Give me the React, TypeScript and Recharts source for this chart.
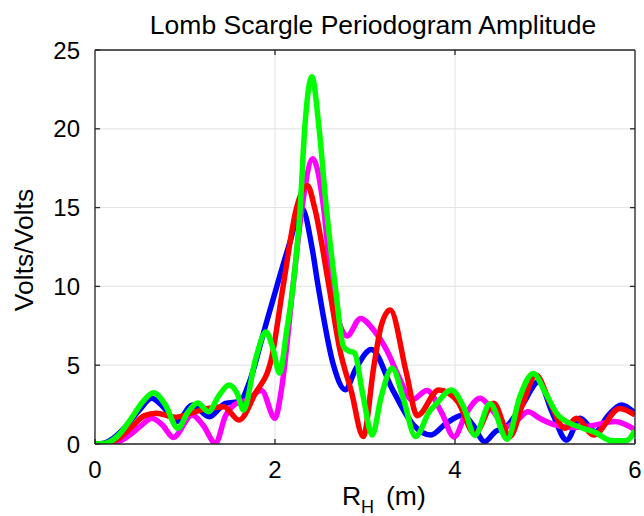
import React from 'react';
import { LineChart, Line, XAxis, YAxis, CartesianGrid, ReferenceLine } from 'recharts';

const xTicks = [0, 2, 4, 6];
const yTicks = [0, 5, 10, 15, 20, 25];

const blueX = [0, 0.1, 0.2, 0.34, 0.5, 0.63, 0.75, 0.91, 1.08, 1.27, 1.45, 1.61, 1.72, 1.87, 2.02, 2.15, 2.3, 2.41, 2.48, 2.65, 2.78, 2.9, 3.07, 3.31, 3.54, 3.73, 3.9, 4.09, 4.2, 4.33, 4.45, 4.57, 4.75, 4.93, 5.08, 5.24, 5.39, 5.56, 5.7, 5.85, 6];
const blueY = [0, 0.05, 0.35, 1.1, 2.2, 2.9, 2.4, 1.42, 2.47, 1.73, 2.58, 2.7, 4.0, 7.0, 10, 12.5, 14.95, 12.5, 10, 5, 3.45, 4.8, 6.0, 3.4, 1.2, 0.57, 1.3, 1.84, 1.2, 0.15, 0.8, 1.1, 2.5, 3.95, 2.0, 0.25, 1.63, 0.78, 1.8, 2.47, 1.95];

const redX = [0, 0.15, 0.25, 0.41, 0.55, 0.68, 0.89, 1.08, 1.26, 1.43, 1.6, 1.78, 1.96, 2.09, 2.24, 2.36, 2.44, 2.6, 2.72, 2.85, 2.98, 3.1, 3.18, 3.28, 3.46, 3.58, 3.82, 4.03, 4.22, 4.43, 4.61, 4.75, 4.9, 5.05, 5.22, 5.35, 5.54, 5.83, 6];
const redY = [0, 0.05, 0.3, 1.1, 1.8, 1.95, 1.7, 2.0, 2.26, 2.37, 1.52, 3.2, 5.4, 10, 15, 16.4, 15, 10, 6, 3.3, 0.47, 5.0, 7.5, 8.5, 4.5, 1.8, 3.43, 2.7, 0.65, 2.58, 0.47, 2.5, 4.38, 2.7, 1.0, 1.63, 0.57, 2.26, 1.84];

const magentaX = [0, 0.2, 0.3, 0.41, 0.52, 0.63, 0.75, 0.87, 1.08, 1.2, 1.34, 1.45, 1.55, 1.69, 1.85, 2.0, 2.07, 2.2, 2.3, 2.42, 2.54, 2.63, 2.7, 2.8, 2.95, 3.1, 3.24, 3.38, 3.52, 3.69, 3.85, 3.99, 4.12, 4.28, 4.42, 4.57, 4.69, 4.81, 4.95, 5.09, 5.3, 5.5, 5.78, 6];
const magentaY = [0, 0.05, 0.25, 0.68, 1.2, 1.63, 1.2, 0.42, 1.84, 1.2, 0.05, 1.8, 2.5, 2.8, 3.4, 1.63, 3.4, 10, 15, 18.1, 15, 10, 8, 6.85, 7.97, 7.2, 5.96, 4.2, 2.8, 3.4, 2.0, 0.45, 1.9, 2.9, 2.1, 1.1, 1.5, 2.05, 1.6, 1.25, 1.05, 1.15, 1.42, 0.9];

const greenX = [0, 0.12, 0.25, 0.4, 0.52, 0.65, 0.78, 0.92, 1.03, 1.14, 1.26, 1.38, 1.49, 1.58, 1.65, 1.78, 1.9, 1.98, 2.05, 2.13, 2.2, 2.28, 2.33, 2.41, 2.49, 2.57, 2.67, 2.76, 2.82, 2.88, 2.98, 3.08, 3.18, 3.3, 3.43, 3.56, 3.72, 3.8, 3.96, 4.1, 4.22, 4.39, 4.58, 4.72, 4.87, 5.0, 5.15, 5.42, 5.55, 5.75, 5.9, 6];
const greenY = [0, 0.05, 0.5, 1.6, 2.6, 3.25, 2.5, 1.0, 2.0, 2.6, 2.05, 3.1, 3.75, 3.2, 2.15, 5.3, 7.1, 6.0, 4.5, 7.2, 10, 15, 20, 23.3, 20, 15, 10, 6.2, 5.9, 5.8, 3.0, 0.57, 3.0, 4.8, 2.8, 0.47, 2.1, 2.6, 3.43, 2.3, 0.55, 2.55, 0.3, 3.0, 4.48, 3.3, 1.8, 1.0, 0.75, 0.2, 0.2, 0.85];

const zip = (xs: number[], ys: number[]) => xs.map((x, i) => ({ x, y: ys[i] }));

const blueData = zip(blueX, blueY);
const redData = zip(redX, redY);
const magentaData = zip(magentaX, magentaY);
const greenData = zip(greenX, greenY);

const FONT = '"Liberation Sans", Arial, Helvetica, sans-serif';
const AXIS = '#262626';
const X_MIN = 0, X_MAX = 6, Y_MIN = 0, Y_MAX = 25;
const TICK_X = 0.055;
const TICK_Y = 0.32;

export default function App() {
  return (
    <div style={{ position: 'absolute', left: 0, top: 0, width: 644, height: 516, background: '#fff' }}>
      <LineChart width={644} height={516} margin={{ top: 50, right: 9, bottom: 0, left: 0 }}>
        <CartesianGrid stroke="#e2e2e2" strokeWidth={1} />
        <XAxis
          dataKey="x"
          type="number"
          domain={[X_MIN, X_MAX]}
          ticks={xTicks}
          allowDataOverflow
          height={72}
          tickSize={-5}
          tickMargin={22}
          stroke={AXIS}
          strokeWidth={1.3}
          tick={{ fontSize: 24, fill: '#000', fontFamily: FONT }}
        />
        <YAxis
          type="number"
          domain={[Y_MIN, Y_MAX]}
          ticks={yTicks}
          allowDataOverflow
          width={95}
          tickSize={-5}
          tickMargin={20}
          stroke={AXIS}
          strokeWidth={1.3}
          tick={{ fontSize: 24, fill: '#000', fontFamily: FONT }}
        />
        <Line data={blueData} dataKey="y" type="monotone" stroke="#0000ff" strokeWidth={5.5} dot={false} isAnimationActive={false} />
        <Line data={magentaData} dataKey="y" type="monotone" stroke="#ff00ff" strokeWidth={5.5} dot={false} isAnimationActive={false} />
        <Line data={redData} dataKey="y" type="monotone" stroke="#ff0000" strokeWidth={5.5} dot={false} isAnimationActive={false} />
        <Line data={greenData} dataKey="y" type="monotone" stroke="#00ff00" strokeWidth={5.5} dot={false} isAnimationActive={false} />
        <ReferenceLine y={Y_MAX} stroke={AXIS} strokeWidth={1.3} ifOverflow="visible" />
        <ReferenceLine x={X_MAX} stroke={AXIS} strokeWidth={1.3} ifOverflow="visible" />
        {xTicks.slice(1, -1).map((t) => (
          <ReferenceLine key={'tx' + t} segment={[{ x: t, y: Y_MAX }, { x: t, y: Y_MAX - TICK_Y }]} stroke={AXIS} strokeWidth={1.3} ifOverflow="visible" />
        ))}
        {yTicks.slice(1, -1).map((t) => (
          <ReferenceLine key={'ty' + t} segment={[{ x: X_MAX, y: t }, { x: X_MAX - TICK_X, y: t }]} stroke={AXIS} strokeWidth={1.3} ifOverflow="visible" />
        ))}
        <text x={373} y={34} textAnchor="middle" fontSize={26.5} fontFamily={FONT} fill="#000">
          Lomb Scargle Periodogram Amplitude
        </text>
        <text transform="translate(33,250) rotate(-90)" textAnchor="middle" fontSize={26.5} fontFamily={FONT} fill="#000">
          Volts/Volts
        </text>
        <text x={342} y={505} fontSize={26.5} fontFamily={FONT} fill="#000">
          R
          <tspan x={361} y={513} fontSize={18}>H</tspan>
          <tspan x={386} y={505}>(m)</tspan>
        </text>
      </LineChart>
    </div>
  );
}
